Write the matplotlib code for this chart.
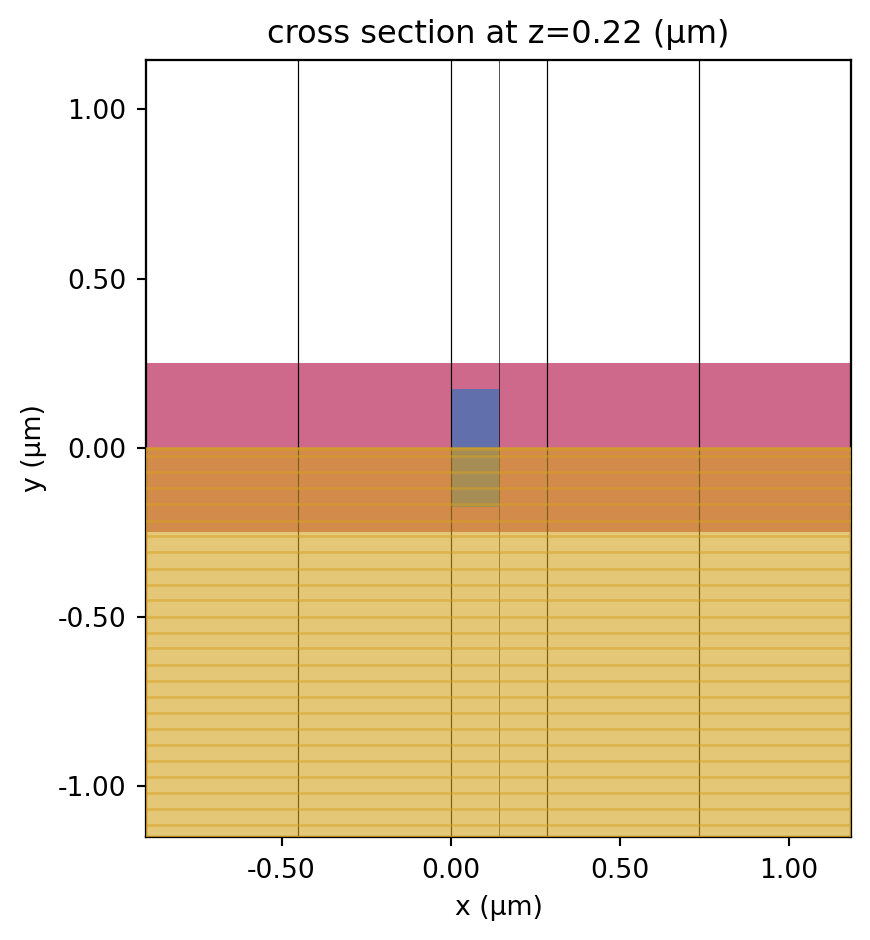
import matplotlib
matplotlib.use("Agg")
import matplotlib.pyplot as plt
from matplotlib.patches import Rectangle
from matplotlib.ticker import FormatStrFormatter

W, H = 870, 940
DPI = 192

# limits in um
x_min, x_max = -0.90, 1.183
y_min, y_max = -1.149, 1.147

ticks = [-1.0, -0.5, 0.0, 0.5, 1.0]

# vertical grid lines
grid_x = [-0.451, 0.0, 0.142, 0.284, 0.734]
grid_w = [0.45, 0.45, 0.25, 0.45, 0.45]

# horizontal mesh lines inside the substrate
mesh_y = [-0.003, -0.025, -0.073, -0.120, -0.167, -0.215, -0.262, -0.309, -0.357,
          -0.404, -0.451, -0.499, -0.546, -0.593, -0.641, -0.688, -0.735, -0.783,
          -0.830, -0.877, -0.925, -0.972, -1.019, -1.067, -1.114]

# layers: x0, x1, y0, y1
cladding = (x_min, x_max, -0.25, 0.25)
core = (0.0, 0.142, -0.175, 0.173)
substrate = (x_min, x_max, -1.149, 0.0)

pink = (207 / 255, 105 / 255, 140 / 255)
blue = (97 / 255, 112 / 255, 172 / 255)
gold = (213 / 255, 162 / 255, 30 / 255)


def add_box(ax, box, z, **kw):
    ax.add_patch(Rectangle((box[0], box[2]), box[1] - box[0], box[3] - box[2], zorder=z, **kw))


fig = plt.figure(figsize=(W / DPI, H / DPI), dpi=DPI)
ax = fig.add_axes([146.2 / W, 1 - 836.7 / H, (851 - 146.2) / W, (836.7 - 59.5) / H])

add_box(ax, cladding, 1, facecolor=pink, edgecolor="none")
add_box(ax, core, 1.1, facecolor=blue, edgecolor="none")

for gx, w in zip(grid_x, grid_w):
    ax.axvline(gx, color="black", lw=w, zorder=2)

# the substrate sits on top of everything, spines too
add_box(ax, substrate, 3, facecolor=gold, edgecolor=gold, alpha=0.6, lw=0.8)
ax.hlines(mesh_y, x_min, x_max, color=gold, alpha=0.5, lw=1.0, zorder=3)

ax.set_xticks(ticks)
ax.set_yticks(ticks)
ax.set_xlim(x_min, x_max)
ax.set_ylim(y_min, y_max)
ax.xaxis.set_major_formatter(FormatStrFormatter("%.2f"))
ax.yaxis.set_major_formatter(FormatStrFormatter("%.2f"))
ax.tick_params(axis="x", pad=4.3)
ax.tick_params(axis="y", pad=3.9)
for s in ax.spines.values():
    s.set_linewidth(0.85)
ax.set_xlabel("x (μm)", labelpad=4.2)
ax.set_ylabel("y (μm)")
ax.set_title("cross section at z=0.22 (μm)")

fig.savefig("out.png", dpi=DPI)
